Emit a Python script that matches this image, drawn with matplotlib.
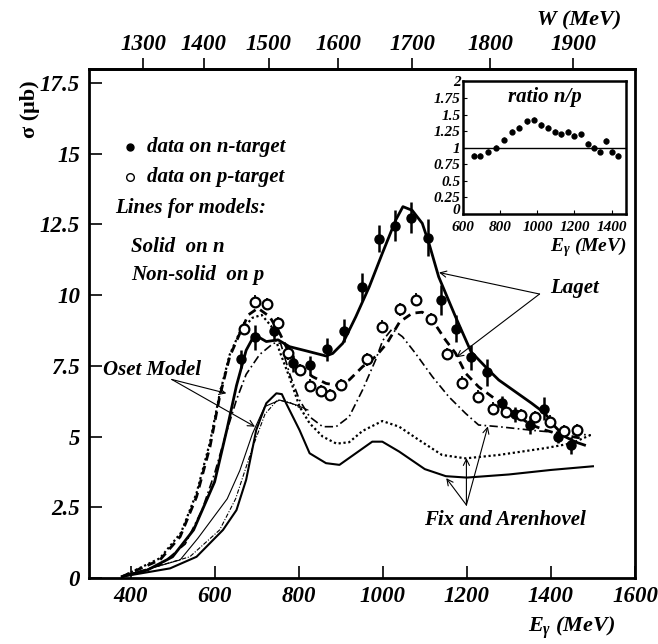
import numpy as np
import matplotlib
matplotlib.use("Agg")
import matplotlib.pyplot as plt
from matplotlib.ticker import FuncFormatter

plt.rcParams['font.family'] = ['Liberation Serif', 'DejaVu Serif']
plt.rcParams['font.weight'] = 'bold'
plt.rcParams['font.style'] = 'italic'
plt.rcParams['mathtext.fontset'] = 'custom'
plt.rcParams['mathtext.it'] = 'Liberation Serif:bold:italic'
plt.rcParams['mathtext.rm'] = 'Liberation Serif:bold'

# ---------------- data ----------------
n_E = [662, 697, 741, 786, 827, 868, 908, 950, 991, 1029, 1068, 1107, 1139, 1175,
       1210, 1248, 1283, 1315, 1351, 1384, 1418, 1449]
n_sig = [7.73, 8.51, 8.72, 7.59, 7.52, 8.09, 8.74, 10.3, 12.0, 12.45, 12.74, 12.03,
         9.83, 8.82, 7.80, 7.27, 6.18, 5.79, 5.40, 5.98, 5.0, 4.70]
n_err = [0.32, 0.44, 0.30, 0.30, 0.34, 0.41, 0.40, 0.50, 0.47, 0.55, 0.55, 0.65,
         0.53, 0.47, 0.44, 0.47, 0.26, 0.27, 0.32, 0.41, 0.24, 0.30]

p_E = [669, 697, 724, 751, 775, 802, 826, 852, 875, 901, 962, 999, 1041, 1078, 1115,
       1153, 1189, 1226, 1262, 1293, 1328, 1362, 1398, 1430, 1463]
p_sig = [8.82, 9.77, 9.69, 9.0, 7.94, 7.35, 6.80, 6.62, 6.47, 6.82, 7.73, 8.89, 9.5,
         9.84, 9.16, 7.91, 6.91, 6.41, 5.99, 5.86, 5.76, 5.70, 5.53, 5.20, 5.23]
p_err = [0.22] * len(p_E)

laget_n_E = [380, 440, 500, 550, 600, 630, 652, 675, 695, 723, 751, 778, 818, 865, 881,
             905, 936, 968, 999, 1031, 1048, 1070, 1094, 1110, 1133, 1173, 1210, 1252,
             1276, 1315, 1354, 1386, 1410, 1433, 1460, 1480]
laget_n = [0.05, 0.28, 0.75, 1.7, 3.4, 5.3, 6.8, 8.05, 8.6, 8.36, 8.42, 8.18, 8.03, 7.85,
           7.94, 8.3, 9.24, 10.3, 11.48, 12.66, 13.13, 13.0, 12.54, 11.83, 10.65, 9.24,
           8.0, 7.35, 7.0, 6.59, 6.18, 5.82, 5.35, 5.0, 4.8, 4.7]

laget_p_E = [380, 470, 518, 557, 589, 612, 636, 660, 680, 703, 731, 755, 778, 802, 833,
             865, 889, 920, 952, 983, 1010, 1040, 1070, 1094, 1118, 1149, 1173, 1197,
             1228, 1260, 1291, 1323, 1354, 1386, 1425, 1470]
laget_p = [0.05, 0.64, 1.46, 2.87, 4.64, 6.41, 7.83, 8.65, 9.3, 9.54, 9.24, 8.65, 7.94,
           7.47, 7.12, 6.88, 6.82, 7.0, 7.47, 7.83, 8.3, 9.05, 9.36, 9.40, 9.12, 8.42,
           7.95, 7.24, 6.76, 6.41, 6.06, 5.70, 5.41, 5.23, 5.06, 4.95]

fix_n_E = [380, 494, 557, 620, 652, 675, 699, 723, 747, 760, 770, 802, 826, 865, 897,
           936, 975, 999, 1039, 1100, 1150, 1200, 1300, 1400, 1500]
fix_n = [0.05, 0.34, 0.75, 1.70, 2.40, 3.47, 5.23, 6.18, 6.53, 6.5, 6.18, 5.23, 4.41,
         4.06, 4.0, 4.41, 4.82, 4.82, 4.47, 3.85, 3.6, 3.55, 3.66, 3.82, 3.95]

fix_p1_E = [380, 470, 520, 557, 589, 612, 636, 660, 690, 712, 735, 755, 778, 802, 826,
            857, 890, 920, 952, 999, 1039, 1086, 1141, 1197, 1276, 1386, 1449, 1495]
fix_p1 = [0.05, 0.7, 1.6, 3.0, 4.8, 6.5, 7.9, 8.7, 9.2, 9.3, 8.9, 8.0, 7.1, 6.06, 5.47,
          5.0, 4.75, 4.8, 5.2, 5.55, 5.35, 4.88, 4.35, 4.23, 4.35, 4.59, 4.76, 5.06]

fix_p2_E = [380, 470, 530, 570, 600, 625, 652, 675, 707, 740, 757, 778, 802, 826, 857,
            889, 920, 952, 983, 1000, 1022, 1047, 1078, 1118, 1157, 1197, 1228, 1276,
            1370, 1495]
fix_p2 = [0.05, 0.45, 1.2, 2.4, 3.7, 5.0, 6.3, 7.2, 7.9, 8.3, 8.3, 7.24, 6.29, 5.70,
          5.35, 5.35, 5.70, 6.65, 7.71, 8.4, 8.8, 8.53, 7.94, 7.12, 6.41, 5.82, 5.41,
          5.35, 5.2, 5.05]

oset_n_E = [380, 518, 560, 600, 630, 660, 690, 719, 755, 794, 822]
oset_n = [0.05, 0.64, 1.4, 2.2, 2.8, 3.8, 5.1, 6.06, 6.29, 6.12, 5.94]

oset_p_E = [380, 541, 612, 650, 690, 720, 750, 780, 805]
oset_p = [0.05, 0.75, 1.7, 2.8, 4.6, 5.8, 6.3, 6.2, 6.0]

ratio_E = [657, 693, 736, 779, 821, 864, 900, 943, 979, 1021, 1057, 1093, 1129, 1164,
           1200, 1236, 1271, 1307, 1336, 1371, 1400, 1436]
ratio = [0.877, 0.877, 0.937, 0.997, 1.118, 1.24, 1.30, 1.40, 1.42, 1.34, 1.30, 1.24,
         1.20, 1.24, 1.18, 1.20, 1.06, 0.997, 0.937, 1.10, 0.937, 0.877]
ratio_err = [0.04] * len(ratio_E)

x_ticks = [400, 600, 800, 1000, 1200, 1400, 1600]
y_ticks = [0, 2.5, 5, 7.5, 10, 12.5, 15, 17.5]
w_ticks = [1300, 1400, 1500, 1600, 1700, 1800, 1900]
inset_x_ticks = [600, 800, 1000, 1200, 1400]
inset_y_ticks = [0, 0.25, 0.5, 0.75, 1, 1.25, 1.5, 1.75, 2]

M_N = 938.9


def fmt(v, pos=None):
    return '%g' % v


# ---------------- figure ----------------
fig = plt.figure(figsize=(6.58, 6.44), dpi=100)
ax = fig.add_axes([0.1345, 0.1025, 0.8305, 0.7905])
ax.set_xlim(300, 1600)
ax.set_ylim(0, 18)

ax.plot(laget_n_E, laget_n, color='black', lw=2.0)
ax.plot(laget_p_E, laget_p, color='black', lw=2.0, ls=(0, (3, 2)))
ax.plot(fix_n_E, fix_n, color='black', lw=1.5)
ax.plot(fix_p1_E, fix_p1, color='black', lw=1.6, ls=(0, (1, 1.2)))
ax.plot(fix_p2_E, fix_p2, color='black', lw=1.2, ls=(0, (5, 2, 1, 2)))
ax.plot(oset_n_E, oset_n, color='black', lw=0.8)
ax.plot(oset_p_E, oset_p, color='black', lw=0.8, ls=(0, (4, 1.5, 1, 1.5)))

ax.errorbar(n_E, n_sig, yerr=n_err, fmt='o', color='black', ms=6.5,
            elinewidth=1.8, capsize=0, zorder=5)
ax.errorbar(p_E, p_sig, yerr=p_err, fmt='o', color='black', mfc='white', mec='black',
            mew=1.6, ms=7, elinewidth=1.3, capsize=0, zorder=6)

for s in ax.spines.values():
    s.set_linewidth(2.0)
ax.set_xticks(x_ticks)
ax.set_yticks(y_ticks)
ax.xaxis.set_major_formatter(FuncFormatter(fmt))
ax.yaxis.set_major_formatter(FuncFormatter(fmt))
ax.tick_params(axis='both', direction='in', length=9, width=1.2, labelsize=16.5)
ax.tick_params(axis='x', pad=6)
ax.tick_params(axis='y', pad=6)


def e2w(e):
    e = np.asarray(e, dtype=float)
    return np.sqrt(np.maximum(M_N ** 2 + 2 * M_N * e, 1.0))


def w2e(w):
    w = np.asarray(w, dtype=float)
    return (w ** 2 - M_N ** 2) / (2 * M_N)


secax = ax.secondary_xaxis('top', functions=(e2w, w2e))
secax.set_xticks(w_ticks)
secax.xaxis.set_major_formatter(FuncFormatter(fmt))
secax.tick_params(axis='x', direction='out', length=8, width=1.2, labelsize=16.5, pad=2)
secax.spines['top'].set_linewidth(2.0)

fig.text(0.944, 0.968, 'W (MeV)', ha='right', va='center', fontsize=16)
fig.text(0.935, 0.025, r'$E_{\gamma}$ (MeV)', ha='right', va='center', fontsize=16)
fig.text(0.046, 0.83, 'σ (μb)', rotation=90, ha='center', va='center', fontsize=16,
         fontstyle='normal')

# legend-like texts
tkw = dict(fontsize=15, ha='left', va='center')
ax.plot([398.8], [15.25], 'o', color='black', ms=5)
ax.text(438, 15.25, 'data on n-target', **tkw)
ax.plot([398.8], [14.17], 'o', mfc='white', mec='black', mew=1.0, ms=5.5)
ax.text(438, 14.17, 'data on p-target', **tkw)
ax.text(363, 13.08, 'Lines for models:', **tkw)
ax.text(402, 11.71, 'Solid  on n', **tkw)
ax.text(402, 10.71, 'Non-solid  on p', **tkw)

# model labels with arrows
ax.text(334, 7.35, 'Oset Model', **tkw)
ax.text(1399, 10.25, 'Laget', **tkw)
ax.text(1099, 2.05, 'Fix and Arenhovel', **tkw)

akw = dict(arrowstyle='->', lw=0.8, color='black', shrinkA=0, shrinkB=0,
           mutation_scale=11)
for tip in [(628, 6.53), (696, 5.35)]:
    ax.annotate('', xy=tip, xytext=(498, 7.02), arrowprops=akw)
for tip in [(1134, 10.8), (1175, 7.8)]:
    ax.annotate('', xy=tip, xytext=(1373, 10.04), arrowprops=akw)
for tip in [(1151, 3.53), (1199, 4.24), (1250, 5.36)]:
    ax.annotate('', xy=tip, xytext=(1199, 2.58), arrowprops=akw)

# ---------------- inset ----------------
ins = fig.add_axes([0.704, 0.668, 0.248, 0.2055])
ins.set_xlim(600, 1480)
ins.set_ylim(0, 2)
ins.axhline(1.0, color='black', lw=1.0)
ins.errorbar(ratio_E, ratio, yerr=ratio_err, fmt='o', color='black', ms=3.5,
             elinewidth=1.0, capsize=0)
for s in ins.spines.values():
    s.set_linewidth(1.8)
ins.set_xticks(inset_x_ticks)
ins.set_yticks(inset_y_ticks)
ins.xaxis.set_major_formatter(FuncFormatter(fmt))
ins.yaxis.set_major_formatter(FuncFormatter(fmt))
ins.tick_params(axis='both', direction='in', length=3, width=0.8, labelsize=11)
ins.tick_params(axis='x', pad=5)
ins.tick_params(axis='y', pad=2)
for lbl in ins.get_yticklabels():
    if lbl.get_text() == '0':
        lbl.set_verticalalignment('baseline')
ins.text(0.5, 0.88, 'ratio n/p', transform=ins.transAxes, ha='center', va='center',
         fontsize=15)
ins.text(1.0, -0.25, r'$E_{\gamma}$ (MeV)', transform=ins.transAxes, ha='right',
         va='center', fontsize=14)

fig.savefig('out.png', dpi=100)
